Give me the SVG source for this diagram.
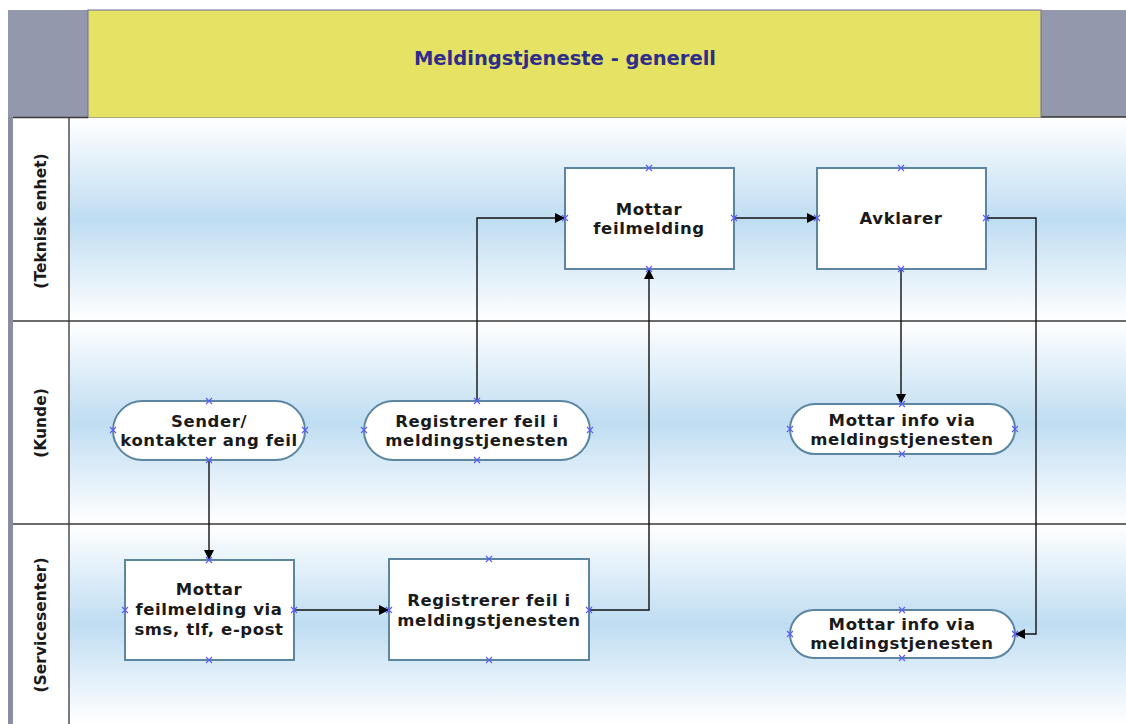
<svg xmlns="http://www.w3.org/2000/svg" width="1126" height="724" viewBox="0 0 1126 724">
  <defs>
    <linearGradient id="laneFill" x1="0" y1="0" x2="0" y2="1">
      <stop offset="0" stop-color="#ffffff"/>
      <stop offset="0.5" stop-color="#bfddf2"/>
      <stop offset="1" stop-color="#ffffff"/>
    </linearGradient>
    <marker id="arrow" viewBox="0 0 10 10" refX="9" refY="5" markerWidth="10" markerHeight="10" markerUnits="userSpaceOnUse" orient="auto">
      <path d="M0,0 L10,5 L0,10 z" fill="#000"/>
    </marker>
    <g id="xmark">
      <path d="M-3,-3 L3,3 M-3,3 L3,-3" stroke="#5a5aff" stroke-width="1.1"/>
    </g>
  </defs>
  <style>
    .lbl { font-family: "DejaVu Sans", Verdana, sans-serif; font-weight: bold; font-size: 16.5px; letter-spacing: 0.6px; fill: #1a1a1a; text-anchor: middle; }
    .lane-lbl { font-family: "DejaVu Sans", Verdana, sans-serif; font-weight: bold; font-size: 15.5px; fill: #1a1a1a; text-anchor: middle; }
    .title { font-family: "DejaVu Sans", Verdana, sans-serif; font-weight: bold; font-size: 19.5px; fill: #2e2e8a; text-anchor: middle; }
    .box { fill: #ffffff; stroke: #5b85a0; stroke-width: 2; }
    .conn { fill: none; stroke: #111; stroke-width: 1.4; marker-end: url(#arrow); }
    .lane-line { stroke: #3a3a3a; stroke-width: 1.5; }
  </style>

  <rect width="1126" height="724" fill="#ffffff"/>

  <!-- header band -->
  <g id="header">
    <rect x="8" y="10" width="80" height="107" fill="#9498ac"/>
    <rect x="1041" y="10" width="85" height="107" fill="#9498ac"/>
    <line x1="1041" y1="117" x2="1126" y2="117" stroke="#333" stroke-width="1.5"/>
    <rect x="88" y="10" width="953" height="108" fill="#e6e264" stroke="#6a6aa6" stroke-width="1"/>
    <text class="title" x="565" y="65">Meldingstjeneste - generell</text>
  </g>

  <!-- swimlanes -->
  <g id="lanes">
    <rect x="70" y="118" width="1056" height="203" fill="url(#laneFill)"/>
    <rect x="70" y="321" width="1056" height="203" fill="url(#laneFill)"/>
    <rect x="70" y="524" width="1056" height="200" fill="url(#laneFill)"/>
    <rect x="13" y="117" width="56" height="607" fill="#ffffff"/>
    <rect x="8" y="117" width="5" height="607" fill="#8a8ea2"/>
    <line x1="69" y1="117" x2="69" y2="724" stroke="#7a7a7a" stroke-width="2"/>
    <line class="lane-line" x1="13" y1="117.5" x2="88" y2="117.5"/>
    <line class="lane-line" x1="13" y1="321" x2="1126" y2="321"/>
    <line class="lane-line" x1="13" y1="524" x2="1126" y2="524"/>
    <text class="lane-lbl" transform="translate(46,221) rotate(-90)">(Teknisk enhet)</text>
    <text class="lane-lbl" transform="translate(46,423) rotate(-90)">(Kunde)</text>
    <text class="lane-lbl" transform="translate(46,625) rotate(-90)">(Servicesenter)</text>
  </g>

  <!-- connectors -->
  <g id="connectors">
    <path class="conn" d="M209,460 V559"/>
    <path class="conn" d="M294,610 H388"/>
    <path class="conn" d="M589,610 H649 V270"/>
    <path class="conn" d="M477,401 V218 H564"/>
    <path class="conn" d="M734,218 H816"/>
    <path class="conn" d="M901,269 V403"/>
    <path class="conn" d="M986,218 H1036 V634 H1016"/>
  </g>

  <!-- nodes -->
  <g id="mottar-feilmelding">
    <rect class="box" x="565" y="168" width="169" height="101"/>
    <text class="lbl" x="649" y="215">Mottar</text>
    <text class="lbl" x="649" y="234">feilmelding</text>
    <use href="#xmark" x="649" y="168"/><use href="#xmark" x="565" y="218"/><use href="#xmark" x="734" y="218"/><use href="#xmark" x="649" y="269"/>
  </g>

  <g id="avklarer">
    <rect class="box" x="817" y="168" width="169" height="101"/>
    <text class="lbl" x="901" y="224">Avklarer</text>
    <use href="#xmark" x="901" y="168"/><use href="#xmark" x="817" y="218"/><use href="#xmark" x="986" y="218"/><use href="#xmark" x="901" y="269"/>
  </g>

  <g id="sender-kontakter">
    <rect class="box" x="113" y="401" width="192" height="59" rx="29.5"/>
    <text class="lbl" x="209" y="427">Sender/</text>
    <text class="lbl" x="209" y="446">kontakter ang feil</text>
    <use href="#xmark" x="209" y="401"/><use href="#xmark" x="113" y="430"/><use href="#xmark" x="305" y="430"/><use href="#xmark" x="209" y="460"/>
  </g>

  <g id="registrerer-kunde">
    <rect class="box" x="364" y="401" width="226" height="59" rx="29.5"/>
    <text class="lbl" x="477" y="427">Registrerer feil i</text>
    <text class="lbl" x="477" y="446">meldingstjenesten</text>
    <use href="#xmark" x="477" y="401"/><use href="#xmark" x="364" y="430"/><use href="#xmark" x="590" y="430"/><use href="#xmark" x="477" y="460"/>
  </g>

  <g id="mottar-info-kunde">
    <rect class="box" x="790" y="404" width="225" height="50" rx="25"/>
    <text class="lbl" x="902" y="426">Mottar info via</text>
    <text class="lbl" x="902" y="445">meldingstjenesten</text>
    <use href="#xmark" x="902" y="404"/><use href="#xmark" x="790" y="429"/><use href="#xmark" x="1015" y="429"/><use href="#xmark" x="902" y="454"/>
  </g>

  <g id="mottar-feilmelding-via">
    <rect class="box" x="125" y="560" width="169" height="100"/>
    <text class="lbl" x="209" y="595">Mottar</text>
    <text class="lbl" x="209" y="615">feilmelding via</text>
    <text class="lbl" x="209" y="635">sms, tlf, e-post</text>
    <use href="#xmark" x="209" y="560"/><use href="#xmark" x="125" y="610"/><use href="#xmark" x="294" y="610"/><use href="#xmark" x="209" y="660"/>
  </g>

  <g id="registrerer-service">
    <rect class="box" x="389" y="559" width="200" height="101"/>
    <text class="lbl" x="489" y="606">Registrerer feil i</text>
    <text class="lbl" x="489" y="626">meldingstjenesten</text>
    <use href="#xmark" x="489" y="559"/><use href="#xmark" x="389" y="610"/><use href="#xmark" x="589" y="610"/><use href="#xmark" x="489" y="660"/>
  </g>

  <g id="mottar-info-service">
    <rect class="box" x="790" y="610" width="225" height="48" rx="24"/>
    <text class="lbl" x="902" y="630">Mottar info via</text>
    <text class="lbl" x="902" y="649">meldingstjenesten</text>
    <use href="#xmark" x="902" y="610"/><use href="#xmark" x="790" y="634"/><use href="#xmark" x="1015" y="634"/><use href="#xmark" x="902" y="658"/>
  </g>
</svg>
